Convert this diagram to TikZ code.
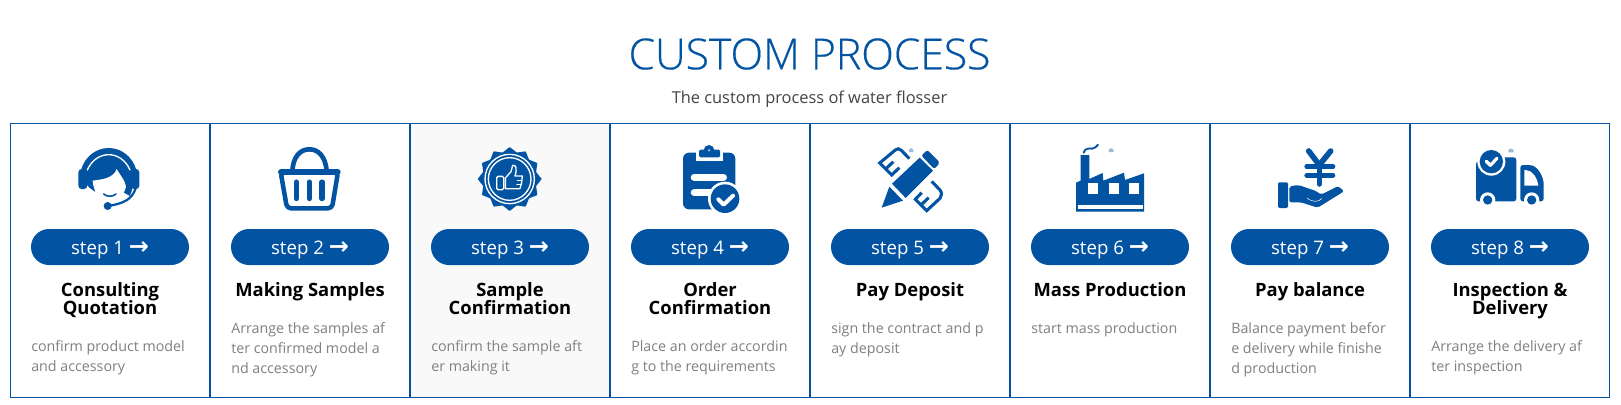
\documentclass[tikz,border=0pt]{standalone}
\usepackage{fontspec}
\setmainfont{Open Sans}
\newfontfamily\titlefont{Open Sans Light}[FakeBold=0.4]
\newfontfamily\arrowfont{DejaVu Sans}
\setlength{\lineskiplimit}{-20pt}
\definecolor{brand}{HTML}{0254A3}
\definecolor{bodygrey}{HTML}{808080}
\definecolor{subgrey}{HTML}{444444}
\definecolor{paleblue}{HTML}{9DBAD9}
\definecolor{cellgrey}{HTML}{F9F9F9}
\tikzset{
  cellbox/.style={draw=brand,line width=0.75pt,outer sep=0pt,minimum width=149.5pt,minimum height=205.6pt,inner sep=0pt,anchor=north west},
  pillbox/.style={fill=brand,rounded corners=13.5pt,minimum width=118.5pt,minimum height=27pt,inner sep=0pt,text=white,font=\fontsize{14}{15}\selectfont},
  headtext/.style={font=\fontsize{13.8}{13.3}\bfseries\selectfont,align=center,anchor=north,inner sep=0pt,text=black},
  desctext/.style={font=\fontsize{10.7}{15}\selectfont,align=left,anchor=north west,inner sep=0pt,text=bodygrey},
  icon/.style={x=0.25pt,y=-0.25pt},
  blueline/.style={draw=brand,line cap=round,line join=round},
  whiteline/.style={draw=white,line cap=round,line join=round},
  rulerline/.style={draw=brand,line width=2.3pt,line cap=butt,line join=miter}
}
\newcommand{\firstline}{\rule{0pt}{12pt}}
% One column of the process table: number, heading, description, description top y, cell fill
\newcommand{\stepcell}[5]{%
  \begin{scope}[shift={({200*(#1-1)},0)}]
    \node[cellbox,fill=#5] (cell#1) at (10.5,123.5) {};
    \node[pillbox] (pill#1) at (110,247) {\raisebox{-5.25pt}[0pt][0pt]{step #1 {\arrowfont\bfseries\fontsize{18}{15}\selectfont →}}};
    \node[headtext] (head#1) at (110,280) {\firstline #2};
    \node[desctext] (desc#1) at (31,#4) {\firstline #3};
  \end{scope}%
}
\begin{document}
\begin{tikzpicture}[x=0.75pt,y=-0.75pt]
\useasboundingbox (0,0) rectangle (1621,404);
\fill[white] (0,0) rectangle (1621,404);

\node[text=brand,inner sep=0pt,font=\titlefont\fontsize{32}{36}\selectfont] (title) at (809.5,54) {CUSTOM PROCESS};
\node[text=subgrey,inner sep=0pt,font=\fontsize{12.3}{14}\selectfont] (subtitle) at (809.5,99) {The custom process of water flosser};

\stepcell{1}{Consulting\\Quotation}{confirm product model\\and accessory}{335}{white}
\stepcell{2}{Making Samples}{Arrange the samples af\\ter confirmed model a\\nd accessory}{317}{white}
\stepcell{3}{Sample\\Confirmation}{confirm the sample aft\\er making it}{335}{cellgrey}
\stepcell{4}{Order\\Confirmation}{Place an order accordin\\g to the requirements}{335}{white}
\stepcell{5}{Pay Deposit}{sign the contract and p\\ay deposit}{317}{white}
\stepcell{6}{Mass Production}{start mass production}{317}{white}
\stepcell{7}{Pay balance}{Balance payment befor\\e delivery while finishe\\d production}{317}{white}
\stepcell{8}{Inspection \&\\Delivery}{Arrange the delivery af\\ter inspection}{335}{white}

% Headset agent
\begin{scope}[shift={(0,120)},icon]
  \fill[brand] (268,203) -- (243,170) -- (243,150) .. controls (255,108) and (290,84) .. (326,84) .. controls (362,84) and (397,108) .. (409,150) -- (409,170) -- (398,203) -- (390,228) -- (372,218) -- (326,185) -- (285,215) -- cycle;
  \fill[brand,rounded corners=2.5pt] (235,147) rectangle (262,207);
  \fill[brand,rounded corners=2.5pt] (392,147) rectangle (418,207);
  \draw[whiteline,line width=1pt] (262,150) .. controls (275,120) and (300,104) .. (326,104) .. controls (352,104) and (377,120) .. (390,150);
  \fill[white] (278,182) .. controls (305,178) and (340,176) .. (350,147) .. controls (360,165) and (375,180) .. (378,200) .. controls (372,228) and (350,245) .. (326,245) .. controls (300,245) and (280,215) .. (278,182) -- cycle;
  \draw[blueline,line width=1.2pt] (311,222) .. controls (320,231) and (338,231) .. (348,222);
  \draw[blueline,line width=1.7pt] (407,205) .. controls (395,240) and (370,250) .. (325,258);
  \fill[brand] (323,258) circle[radius=12];
\end{scope}

% Shopping basket
\begin{scope}[shift={(0,120)},icon]
  \draw[blueline,line width=3.5pt] (877,152) .. controls (880,110) and (900,88) .. (928,88) .. controls (956,88) and (976,110) .. (980,152);
  \draw[blueline,line width=3.4pt,rounded corners=3pt] (842,156) -- (1014,156) -- (996,265) -- (861,265) -- cycle;
  \draw[blueline,line width=5pt] (844,156) -- (1012,156);
  \foreach \barx in {889,928,966}
    \draw[blueline,line width=3.8pt] (\barx,186) -- (\barx,236);
\end{scope}

% Quality seal with thumb
\begin{scope}[shift={(410,120)},icon]
  \fill[brand,rounded corners=0.5pt] plot[samples=25,domain=0:24] ({299+(89+7*cos(180*\x))*cos(15*\x)},{177+(89+7*cos(180*\x))*sin(15*\x)}) -- cycle;
  \draw[white,line width=1pt] (299,177) circle[radius=74];
  \draw[white,line width=1pt] (299,177) circle[radius=64];
  \draw[whiteline,line width=1pt,rounded corners=1pt] (260,169) rectangle (281,209);
  \draw[whiteline,line width=1pt,line join=round] (286,206) -- (286,174) -- (303,155) -- (308,136) .. controls (318,134) and (322,145) .. (315,168) -- (337,168) -- (335,187) -- (330,206) -- cycle;
  \draw[whiteline,line width=0.6pt] (322,181) -- (336,181);
  \draw[whiteline,line width=0.6pt] (320,194) -- (333,194);
\end{scope}

% Clipboard with tick
\begin{scope}[shift={(410,120)},icon]
  \fill[brand,rounded corners=4.5pt] (819,98) rectangle (976,268);
  \fill[white] (857,96) rectangle (940,122);
  \fill[brand,rounded corners=1pt] (867,89) rectangle (930,112);
  \fill[brand] (897,91) circle[radius=16];
  \fill[paleblue] (897,91) circle[radius=4];
  \draw[whiteline,line width=5.5pt] (853,172) -- (940,172);
  \draw[whiteline,line width=5.5pt] (853,218) -- (905,218);
  \fill[white] (945,236) circle[radius=51];
  \fill[brand] (945,236) circle[radius=43];
  \draw[whiteline,line width=3pt] (925,238) -- (941,254) -- (969,227);
\end{scope}

% Pencil crossed with ruler
\begin{scope}[shift={(810,120)},icon]
  \fill[brand,rounded corners=1.5pt] (334,107) -- (352,90) -- (390,128) -- (373,147) -- cycle;
  \fill[brand] (329,113) -- (369,152) -- (287,234) -- (246,191) -- cycle;
  \fill[brand] (238,200) -- (279,242) -- (215,263) -- cycle;
  \draw[rulerline] (298,116) -- (274,91) .. controls (268,85) and (262,85) .. (256,90) -- (209,129) -- (245,165) -- (268,143);
  \draw[rulerline] (227,147) -- (250,125);
  \draw[rulerline] (365,184) -- (390,210) .. controls (396,218) and (396,228) .. (390,235) -- (350,272) -- (316,238) -- (335,218);
  \draw[rulerline] (333,255) -- (356,233);
  \fill[paleblue] (297,96) -- (297,91) .. controls (298,83) and (309,83) .. (310,91) -- (310,96) -- cycle;
\end{scope}

% Factory with chimney smoke
\begin{scope}[shift={(810,120)},icon]
  \fill[brand] (798,275) -- (798,188) -- (812,182) -- (812,105) -- (838,105) -- (838,177) -- (878,159) -- (880,182) -- (942,158) -- (945,180) -- (1002,160) -- (1002,275) -- cycle;
  \fill[white] (834,188) rectangle (864,222);
  \fill[white] (897,188) rectangle (927,222);
  \fill[white] (958,188) rectangle (988,222);
  \fill[white] (804,255) rectangle (998,268);
  \draw[blueline,line width=1.4pt] (821,98) .. controls (824,84) and (838,85) .. (846,86) .. controls (854,86) and (858,80) .. (864,74);
  \fill[paleblue] (896,96) -- (896,91) .. controls (897,83) and (910,83) .. (911,91) -- (911,96) -- cycle;
\end{scope}

% Yen coin over an open hand
\begin{scope}[shift={(1201,120)},icon]
  \draw[blueline,line width=4.2pt] (323,93) -- (355,135) -- (389,93);
  \draw[blueline,line width=4.2pt] (355,135) -- (355,192);
  \draw[blueline,line width=3.5pt] (317,140) -- (396,140);
  \draw[blueline,line width=3.5pt] (317,166) -- (396,166);
  \fill[brand,rounded corners=1pt] (231,187) rectangle (261,264);
  \fill[brand,rounded corners=1.5pt] (265,199) -- (292,195) -- (345,213) -- (360,224) -- (412,198) -- (429,214) -- (350,263) -- (300,247) -- (265,247) -- cycle;
  \draw[whiteline,line width=0.4pt] (318,234) .. controls (335,248) and (352,246) .. (362,236);
\end{scope}

% Delivery truck with tick
\begin{scope}[shift={(1201,120)},icon]
  \fill[brand,rounded corners=2pt] (825,125) -- (880,112) -- (946,112) -- (946,244) -- (825,244) -- cycle;
  \fill[brand,rounded corners=2pt] (958,135) -- (985,135) .. controls (1010,140) and (1028,170) .. (1028,200) -- (1028,244) -- (958,244) -- cycle;
  \fill[white] (970,150) -- (970,197) -- (1012,197) .. controls (1008,172) and (995,152) .. (975,150) -- cycle;
  \fill[white] (871,125) circle[radius=42];
  \fill[brand] (871,125) circle[radius=35];
  \draw[whiteline,line width=2.4pt] (856,124) -- (868,136) -- (888,115);
  \fill[white] (860,240) circle[radius=23];
  \fill[brand] (860,240) circle[radius=14];
  \fill[white] (992,240) circle[radius=23];
  \fill[brand] (992,240) circle[radius=14];
  \fill[paleblue] (922,97) -- (922,92) .. controls (923,84) and (937,84) .. (938,92) -- (938,97) -- cycle;
\end{scope}
\end{tikzpicture}
\end{document}
